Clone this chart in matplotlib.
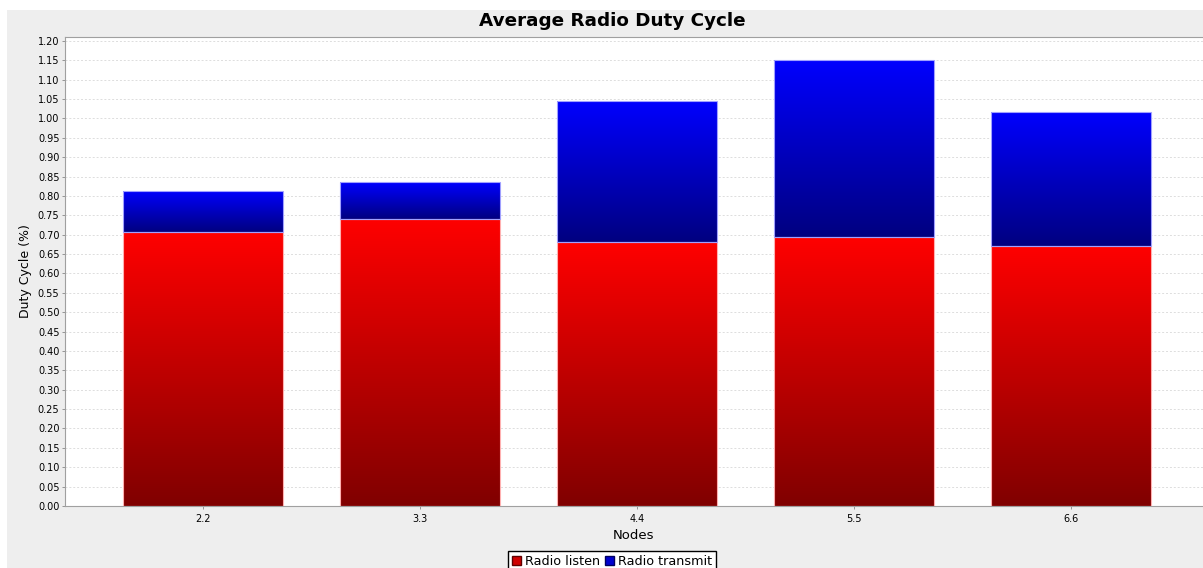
import matplotlib
matplotlib.use("Agg")
import matplotlib.pyplot as plt
import numpy as np
from matplotlib.colors import LinearSegmentedColormap
from matplotlib.patches import Rectangle, Patch

nodes = ['2.2', '3.3', '4.4', '5.5', '6.6']
radio_listen = [0.707, 0.741, 0.681, 0.694, 0.671]
radio_transmit = [0.106, 0.095, 0.364, 0.457, 0.346]

W, H = 1203, 568
fig = plt.figure(figsize=(W / 100, H / 100), dpi=100)
fig.patch.set_facecolor('white')
# grey chart background (leaves thin white strip top/left like the source)
fig.patches.append(Rectangle((7 / W, 0), 1, 1 - 10 / H, transform=fig.transFigure,
                             facecolor='#eeeeee', edgecolor='none', zorder=-10))

ax = fig.add_axes([65 / W, (H - 506) / H, (W - 65) / W, (506 - 37) / H])
ax.set_facecolor('white')

x = np.arange(len(nodes))
reds = LinearSegmentedColormap.from_list('reds', ['#800000', '#ff0000'])
blues = LinearSegmentedColormap.from_list('blues', ['#000080', '#0000ff'])
grad = np.linspace(0, 1, 256).reshape(-1, 1)

b1 = ax.bar(x, radio_listen, width=0.737, color='none', edgecolor='#ffb0b0', linewidth=0.8, zorder=3)
b2 = ax.bar(x, radio_transmit, width=0.737, bottom=radio_listen, color='none',
            edgecolor='#a0a0ff', linewidth=0.8, zorder=3)

for bars, cmap in ((b1, reds), (b2, blues)):
    for r in bars:
        x0, y0, w, h = r.get_x(), r.get_y(), r.get_width(), r.get_height()
        im = ax.imshow(grad, cmap=cmap, origin='lower', aspect='auto',
                       extent=(x0, x0 + w, y0, y0 + h), zorder=2)
        im.set_clip_path(r)

ax.set_xlim(-0.636, 4.608)
ax.set_ylim(0, 1.2103)
ax.set_yticks(np.arange(0, 1.2001, 0.05))
ax.set_yticklabels(['%.2f' % v for v in np.arange(0, 1.2001, 0.05)])
ax.set_xticks(x)
ax.set_xticklabels(nodes)
ax.tick_params(axis='both', labelsize=7, length=2, width=0.6, color='#888888', pad=2)
ax.tick_params(axis='x', pad=4)
ax.yaxis.grid(True, linestyle=(0, (2, 2)), color='#dddddd', linewidth=0.7, zorder=0)
ax.set_axisbelow(True)

for s in ['left', 'bottom', 'top']:
    ax.spines[s].set_color('#a0a0a0')
    ax.spines[s].set_linewidth(0.8)
ax.spines['right'].set_visible(False)

ax.set_ylabel('Duty Cycle (%)', fontsize=9, labelpad=4)
ax.set_xlabel('Nodes', fontsize=9.5, labelpad=3.5)
fig.text(612 / W, 1 - 21 / H, 'Average Radio Duty Cycle', ha='center', va='center',
         fontsize=13.2, fontweight='bold')

handles = [Patch(facecolor='#d00000', edgecolor='#600000', label='Radio listen'),
           Patch(facecolor='#0000d0', edgecolor='#000060', label='Radio transmit')]
fig.legend(handles=handles, loc='upper center', bbox_to_anchor=(612 / W, 1 - 551 / H),
           ncol=2, fontsize=9.2, frameon=True, fancybox=False, edgecolor='black',
           framealpha=1, handlelength=0.7, handleheight=0.7, handletextpad=0.3,
           columnspacing=0.4, borderpad=0.3, borderaxespad=0)

fig.savefig('out.png', dpi=100)
